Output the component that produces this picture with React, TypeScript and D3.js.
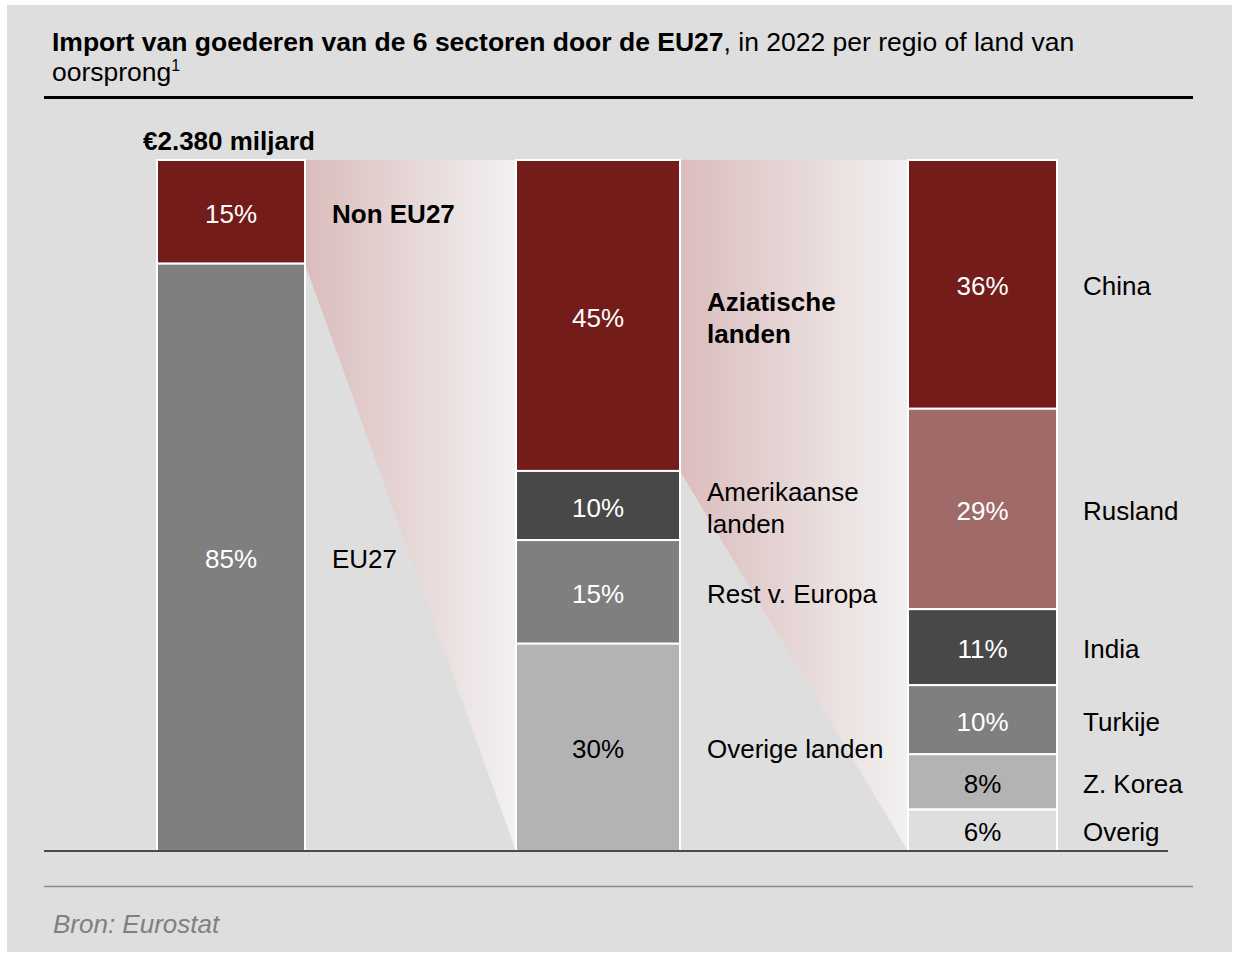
import React from "react";
import * as d3 from "d3";

const W = 1237;
const H = 953;

// bar 1: EU vs non EU
const totalLabels = ["Non EU27", "EU27"];
const totalValues = [15, 85];
const totalColors = ["#731c1a", "#7f7f7f"];

// bar 2: non EU by region
const regionLabels = [["Aziatische", "landen"], ["Amerikaanse", "landen"], ["Rest v. Europa"], ["Overige landen"]];
const regionValues = [45, 10, 15, 30];
const regionColors = ["#731c1a", "#484848", "#7f7f7f", "#b3b3b3"];

// bar 3: Asia by country
const countryLabels = ["China", "Rusland", "India", "Turkije", "Z. Korea", "Overig"];
const countryValues = [36, 29, 11, 10, 8, 6];
const countryColors = ["#731c1a", "#a06a68", "#484848", "#7f7f7f", "#b3b3b3", "#dedede"];

const boldLabels = ["Non EU27", "Aziatische"];
const darkText = ["#b3b3b3", "#dedede"];

const font = "'Liberation Sans', Arial, sans-serif";
const fs = 26;

type Seg = { v: number; y0: number; y1: number; color: string; label: string[] };

function stackUp(values: number[], colors: string[], labels: string[][]): Seg[] {
  let acc = 0;
  return values.map((v, i) => {
    const s = { v, y0: acc, y1: acc + v, color: colors[i], label: labels[i] };
    acc += v;
    return s;
  });
}

export default function App() {
  const y = d3.scaleLinear().domain([0, 100]).range([160, 851]);
  const colX = d3.scaleOrdinal<number, number>().domain([0, 1, 2]).range([157, 516, 908]);
  const colW = d3.scaleOrdinal<number, number>().domain([0, 1, 2]).range([148, 164, 149]);
  const labelX = d3.scaleOrdinal<number, number>().domain([0, 1, 2]).range([332, 707, 1083]);

  const cols = [
    stackUp(totalValues, totalColors, totalLabels.map((d) => [d])),
    stackUp(regionValues, regionColors, regionLabels),
    stackUp(countryValues, countryColors, countryLabels.map((d) => [d])),
  ];

  // connector from the first segment of one column to the full next column
  const fan = (c: number) => {
    const x0 = colX(c) + colW(c);
    const x1 = colX(c + 1);
    const first = cols[c][0];
    return d3.line()([
      [x0, y(first.y0)],
      [x1, y(0)],
      [x1, y(100)],
      [x0, y(first.y1)],
    ]) + "Z";
  };

  return (
    <svg width={W} height={H} style={{ position: "absolute", left: 0, top: 0 }} fontFamily={font}>
      <defs>
        <linearGradient id="fan" x1="0" x2="1" y1="0" y2="0">
          <stop offset="0%" stopColor="#dbbcbc" />
          <stop offset="100%" stopColor="#f2f1f1" />
        </linearGradient>
      </defs>
      <rect x={0} y={0} width={W} height={H} fill="#fff" />
      <rect x={7} y={5} width={1225} height={947} fill="#dedede" />

      <text x={52} y={51} fontSize={26.5} fill="#000">
        <tspan fontWeight="bold">Import van goederen van de 6 sectoren door de EU27</tspan>
        <tspan>, in 2022 per regio of land van</tspan>
      </text>
      <text x={52} y={81} fontSize={26.5} fill="#000">
        oorsprong<tspan fontSize={16} dy={-10}>1</tspan>
      </text>
      <line x1={44} x2={1193} y1={97.5} y2={97.5} stroke="#000" strokeWidth={3} />

      <text x={143} y={150} fontSize={fs} fontWeight="bold" fill="#000">
        €2.380 miljard
      </text>

      <path d={fan(0)} fill="url(#fan)" />
      <path d={fan(1)} fill="url(#fan)" />

      {cols.map((segs, c) => (
        <g key={c}>
          {segs.map((s, i) => {
            const cy = (y(s.y0) + y(s.y1)) / 2;
            return (
              <g key={i}>
                <rect
                  x={colX(c)}
                  y={y(s.y0)}
                  width={colW(c)}
                  height={y(s.y1) - y(s.y0)}
                  fill={s.color}
                  stroke="#fff"
                  strokeWidth={2}
                />
                <text
                  x={colX(c) + colW(c) / 2}
                  y={cy + 2}
                  dy="0.35em"
                  textAnchor="middle"
                  fontSize={fs}
                  fill={darkText.includes(s.color) ? "#000" : "#fff"}
                >
                  {s.v}%
                </text>
                <text
                  x={labelX(c)}
                  y={cy + 2 - ((s.label.length - 1) * 32) / 2}
                  fontSize={fs}
                  fontWeight={boldLabels.includes(s.label[0]) ? "bold" : "normal"}
                  fill="#000"
                >
                  {s.label.map((l, k) => (
                    <tspan key={k} x={labelX(c)} dy={k === 0 ? "0.35em" : 32}>
                      {l}
                    </tspan>
                  ))}
                </text>
              </g>
            );
          })}
        </g>
      ))}

      <line x1={44} x2={1168} y1={851} y2={851} stroke="#4a4a4a" strokeWidth={2} />
      <line x1={44} x2={1193} y1={886.5} y2={886.5} stroke="#8a8a8a" strokeWidth={1.5} />

      <text x={53} y={933} fontSize={fs} fontStyle="italic" fill="#808080">
        Bron: Eurostat
      </text>
    </svg>
  );
}
